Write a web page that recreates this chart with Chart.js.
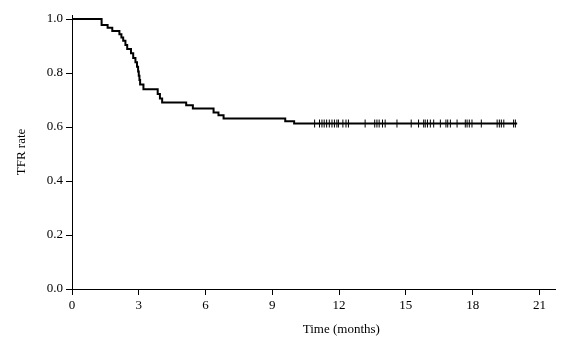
<!DOCTYPE html>
<html>
<head>
<meta charset="utf-8">
<script src="https://cdn.jsdelivr.net/npm/chart.js@4/dist/chart.umd.min.js"></script>
<style>
  html, body { margin: 0; padding: 0; background: #fff; }
  #wrap { width: 565px; height: 352px; }
</style>
</head>
<body>
<div id="wrap"><canvas id="kmChart" width="565" height="352"></canvas></div>
<script>
// step times (months) and TFR rate after each step
const eventTimes = [0, 1.33, 1.60, 1.81, 2.13, 2.22, 2.30, 2.40, 2.48, 2.65, 2.75, 2.85, 2.92, 2.97, 3.00, 3.03, 3.06, 3.21, 3.85, 3.95, 4.05, 5.13, 5.43, 6.36, 6.58, 6.81, 9.58, 9.98, 20.0];
const tfrRate = [1.0, 0.978, 0.968, 0.956, 0.944, 0.932, 0.920, 0.904, 0.889, 0.873, 0.856, 0.840, 0.823, 0.806, 0.790, 0.774, 0.758, 0.740, 0.722, 0.706, 0.691, 0.681, 0.669, 0.654, 0.644, 0.632, 0.621, 0.613, 0.613];

// censored observations (tick marks on the last plateau)
const censorTimes = [10.9, 11.12, 11.23, 11.33, 11.44, 11.56, 11.68, 11.79, 11.9, 11.97, 12.17, 12.31, 12.42, 13.17, 13.6, 13.7, 13.8, 13.95, 14.07, 14.6, 15.24, 15.57, 15.8, 15.87, 15.97, 16.1, 16.25, 16.55, 16.8, 16.88, 17.0, 17.3, 17.67, 17.75, 17.85, 17.97, 18.39, 19.1, 19.2, 19.29, 19.4, 19.84, 19.92];
const censorRate = 0.613;

const xTicks = [0, 3, 6, 9, 12, 15, 18, 21];
const yTicks = [0, 0.2, 0.4, 0.6, 0.8, 1.0];

const FONT = 'Liberation Serif, Times New Roman, serif';

const curvePoints = eventTimes.map((t, i) => ({ x: t, y: tfrRate[i] }));
const censorPoints = censorTimes.map(t => ({ x: t, y: censorRate }));

// x axis title sits a bit right of centre in the original, drawn by hand
const xTitlePlugin = {
    id: 'xTitle',
    afterDraw(chart) {
        const ctx = chart.ctx;
        const xs = chart.scales.x;
        ctx.save();
        ctx.font = '13px ' + FONT;
        ctx.fillStyle = '#000';
        ctx.textAlign = 'center';
        ctx.textBaseline = 'middle';
        ctx.fillText('Time (months)', xs.getPixelForValue(12.1), 330);
        ctx.restore();
    }
};

new Chart(document.getElementById('kmChart').getContext('2d'), {
    type: 'line',
    data: {
        datasets: [
            {
                label: 'TFR',
                data: curvePoints,
                stepped: 'before',
                borderColor: '#000',
                borderWidth: 2,
                pointRadius: 0,
                fill: false,
                clip: false
            },
            {
                label: 'censored',
                data: censorPoints,
                showLine: false,
                pointStyle: 'line',
                rotation: 90,
                pointRadius: 4,
                pointBorderWidth: 1,
                pointBorderColor: '#000',
                borderColor: '#000',
                clip: false
            }
        ]
    },
    options: {
        responsive: false,
        animation: false,
        layout: { padding: { top: 15, right: 10, left: 0, bottom: 0 } },
        plugins: { legend: { display: false }, tooltip: { enabled: false } },
        scales: {
            x: {
                type: 'linear',
                min: 0, max: 21.7,
                afterBuildTicks: s => { s.ticks = xTicks.map(v => ({ value: v })); },
                afterFit: s => { s.height = 63; },
                border: { display: true, color: '#000', width: 1 },
                grid: { display: true, drawOnChartArea: false, drawTicks: true, tickLength: 6, color: '#000' },
                ticks: { color: '#000', font: { family: FONT, size: 13 }, padding: 3, maxRotation: 0 }
            },
            y: {
                type: 'linear',
                min: 0, max: 1.015,
                afterBuildTicks: s => { s.ticks = yTicks.map(v => ({ value: v })); },
                afterFit: s => { s.width = 72; },
                border: { display: true, color: '#000', width: 1 },
                grid: { display: true, drawOnChartArea: false, drawTicks: true, tickLength: 6, color: '#000' },
                ticks: { color: '#000', font: { family: FONT, size: 13 }, padding: 3, callback: v => v.toFixed(1) },
                title: { display: true, text: 'TFR rate', color: '#000', font: { family: FONT, size: 13 }, padding: { top: 14, bottom: 0 } }
            }
        }
    },
    plugins: [xTitlePlugin]
});
</script>
</body>
</html>
